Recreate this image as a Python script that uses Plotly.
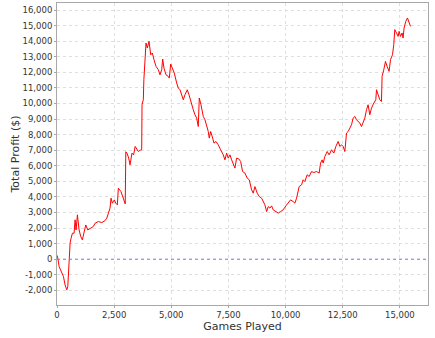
import plotly.graph_objects as go

games = [0, 35, 92, 210, 280, 354, 428, 472, 500, 530, 573, 616, 675, 747, 791, 835, 893, 966,
         1040, 1110, 1200, 1258, 1346, 1447, 1592, 1665, 1810, 1958, 2102, 2177, 2247, 2320,
         2364, 2421, 2509, 2570, 2640, 2684, 2800, 2902, 2985, 3010, 3060, 3135, 3195, 3280,
         3350, 3420, 3500, 3560, 3640, 3705, 3720, 3776, 3800, 3851, 3894, 3951, 4025, 4100,
         4170, 4244, 4331, 4432, 4506, 4580, 4624, 4680, 4768, 4869, 4912, 4974, 5061, 5131,
         5236, 5306, 5380, 5454, 5524, 5599, 5699, 5774, 5848, 5962, 6036, 6110, 6180, 6224,
         6298, 6399, 6473, 6547, 6617, 6661, 6722, 6810, 6866, 6954, 7054, 7159, 7273, 7347,
         7421, 7491, 7566, 7640, 7710, 7784, 7858, 7959, 8033, 8121, 8221, 8322, 8409, 8514,
         8584, 8658, 8759, 8846, 8951, 9021, 9095, 9170, 9240, 9314, 9388, 9458, 9576, 9677,
         9781, 9895, 10013, 10114, 10218, 10332, 10406, 10481, 10594, 10699, 10769, 10844,
         10944, 11032, 11136, 11237, 11355, 11469, 11530, 11600, 11644, 11718, 11819, 11906,
         12010, 12111, 12199, 12300, 12373, 12448, 12518, 12592, 12666, 12736, 12810, 12884,
         12955, 13029, 13103, 13173, 13247, 13322, 13392, 13466, 13540, 13610, 13684, 13758,
         13859, 13947, 13977, 14047, 14121, 14195, 14222, 14296, 14370, 14440, 14528, 14589,
         14677, 14733, 14777, 14852, 14922, 14966, 15027, 15097, 15140, 15184, 15258, 15332,
         15389, 15433, 15463]

profit = [250, 80, -475, -900, -1100, -1650, -1970, -1760, -1100, 170, 1030, 1350, 1670, 1670,
          2530, 1880, 2850, 1880, 1450, 1240, 1880, 2200, 1880, 1990, 2100, 2310, 2420, 2350,
          2480, 2630, 2960, 3280, 3920, 3600, 3810, 3600, 3490, 4560, 4340, 3920, 3550, 6900,
          6810, 6500, 6060, 6810, 6700, 7240, 7000, 6915, 7000, 7025, 9917, 10240, 11520,
          12600, 13880, 13560, 13990, 13130, 13240, 12810, 12380, 12170, 11840, 12170, 12850,
          12270, 11840, 11735, 11630, 12530, 12170, 11950, 11310, 10990, 10880, 10560, 10240,
          10560, 10880, 10560, 10130, 9595, 9275, 9060, 8520, 10350, 9917, 9165, 8950, 8630,
          8200, 7776, 8200, 7776, 7455, 7560, 7345, 7025, 6700, 6380, 6810, 6490, 6700, 6380,
          6060, 5850, 6490, 6430, 6270, 5630, 5530, 5205, 5100, 4455, 4240, 4665, 4240, 4025,
          3920, 3700, 3490, 3060, 3380, 3280, 3425, 3170, 3060, 2960, 3060, 3170, 3425, 3640,
          3810, 3700, 3600, 3920, 4665, 4775, 5100, 4990, 5420, 5310, 5630, 5565, 5630, 5530,
          6170, 6380, 6170, 6595, 6915, 6700, 7025, 6810, 7240, 7560, 7240, 7345, 7240, 6915,
          8100, 8200, 8420, 8630, 9060, 9165, 8950, 8845, 8740, 8520, 8845, 9060, 9600, 9917,
          9275, 9700, 10025, 10240, 10880, 10560, 10240, 10130, 11735, 12170, 12700, 12380,
          12060, 12810, 13130, 13770, 14740, 14525, 14305, 14630, 14305, 14525, 14200, 14845,
          15270, 15490, 15270, 15165, 14950]

x_ticks = [0, 2500, 5000, 7500, 10000, 12500, 15000]
y_ticks = list(range(-2000, 16001, 1000))

fig = go.Figure()
fig.add_trace(go.Scatter(x=games, y=profit, mode="lines",
                         line=dict(color="#ff0000", width=1), showlegend=False))

fig.add_shape(type="line", xref="paper", yref="y", x0=0, x1=1, y0=0, y1=0,
              line=dict(color="#7c7cff", width=1, dash="dot"))

tickfont = dict(family="DejaVu Sans", size=8.5, color="#333333")
fig.update_layout(
    width=435, height=338,
    margin=dict(l=57, r=7, t=3, b=33),
    paper_bgcolor="white", plot_bgcolor="white",
    xaxis=dict(range=[0, 16230], tickvals=x_ticks,
               ticktext=[f"{v:,}" for v in x_ticks],
               showgrid=True, gridcolor="#dedede", griddash="dot", gridwidth=1,
               zeroline=False, showline=True, linecolor="#a8a8a8", linewidth=1, mirror=True,
               ticks="outside", ticklen=2, tickcolor="#a8a8a8", tickfont=tickfont,
               title=dict(text="Games Played", font=dict(family="DejaVu Sans", size=11, color="#333333"),
                          standoff=3)),
    yaxis=dict(range=[-2940, 16450], tickvals=y_ticks,
               ticktext=[f"{v:,}" for v in y_ticks],
               showgrid=True, gridcolor="#dedede", griddash="dot", gridwidth=1,
               zeroline=False, showline=True, linecolor="#a8a8a8", linewidth=1, mirror=True,
               ticks="outside", ticklen=2, tickcolor="#a8a8a8", tickfont=tickfont,
               title=dict(text="Total Profit ($)", font=dict(family="DejaVu Sans", size=11, color="#333333"),
                          standoff=0)),
)

fig.write_html("out.html")
